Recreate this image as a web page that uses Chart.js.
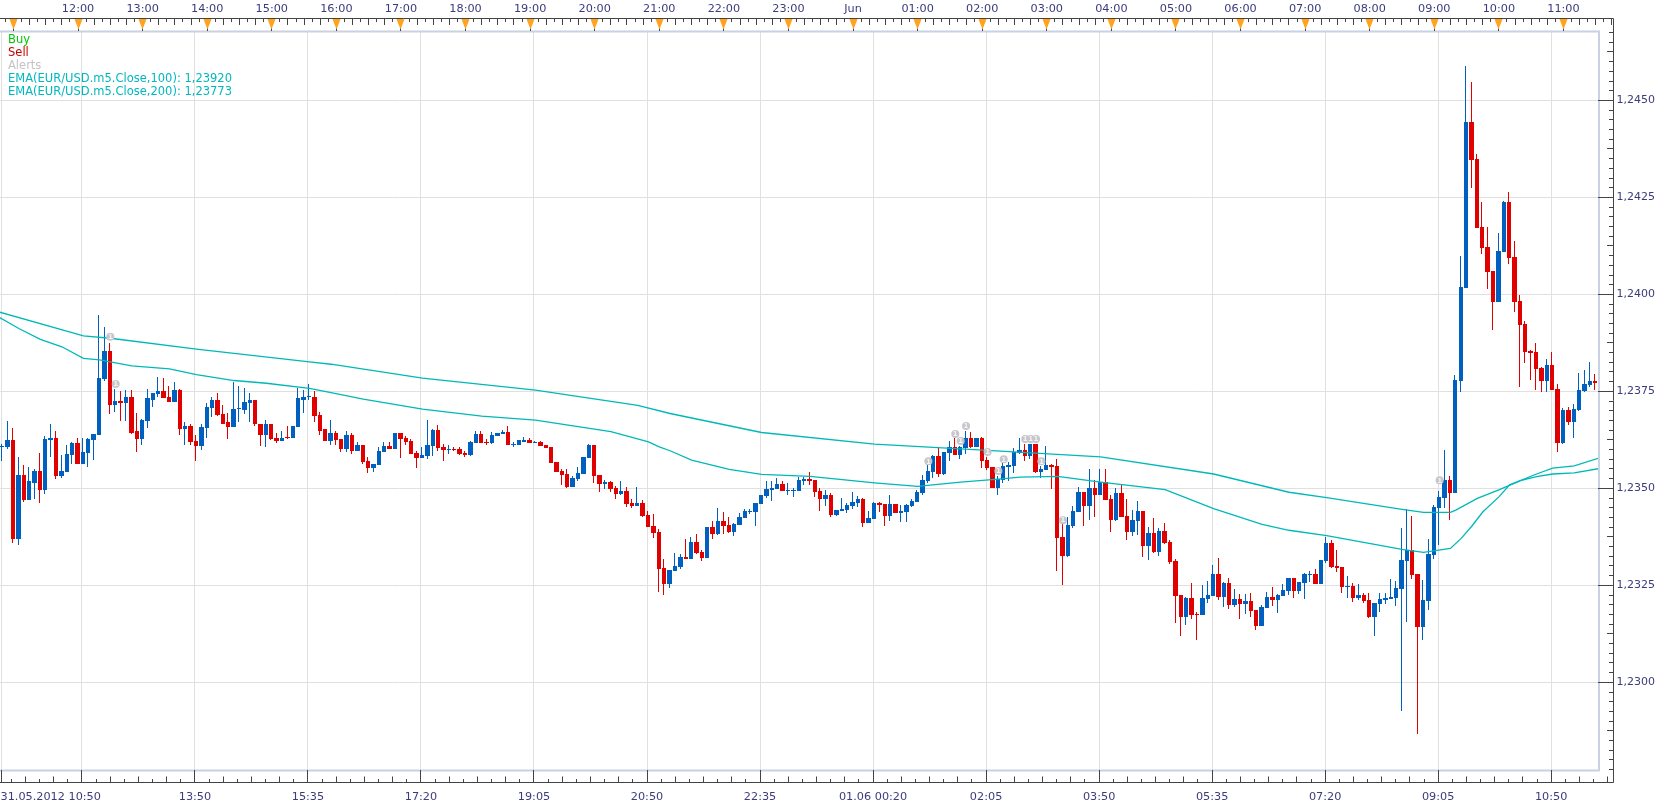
<!DOCTYPE html>
<html>
<head>
<meta charset="utf-8">
<title>EUR/USD m5</title>
<style>
  html, body { margin: 0; padding: 0; background: #fff; }
  #wrap { width: 1670px; height: 807px; }
</style>
<script src="https://cdn.jsdelivr.net/npm/chart.js@4"></script>
</head>
<body>
<div id="wrap"><canvas id="chart" width="1670" height="807"></canvas></div>
<script>
// EUR/USD 5-minute candles, in points (0.00001) above 1.23000.
const opens = [
606,606,624,369,534,469,515,546,495,624,
631,531,541,585,616,564,590,624,637,781,
853,714,724,719,735,647,626,673,729,742,
750,735,722,753,652,662,621,608,655,706,
729,691,670,657,704,701,719,727,667,637,
667,629,621,631,629,657,729,735,735,688,
652,621,644,627,601,637,596,612,570,552,
560,594,609,601,643,630,622,591,578,583,
609,650,606,599,601,601,591,586,617,640,
619,617,635,640,645,612,612,619,625,617,
619,612,606,568,545,537,503,524,537,578,
612,534,511,516,501,485,493,462,455,462,
431,403,387,295,253,287,297,323,318,362,
336,320,400,382,416,406,387,406,424,438,
439,460,480,497,498,511,493,494,493,519,
524,521,493,473,483,431,442,444,454,462,
473,411,421,462,460,429,460,436,439,454,
465,488,519,542,583,537,591,607,586,604,
630,607,630,573,555,501,521,555,558,591,
599,583,614,542,547,560,558,375,326,403,
439,491,454,501,483,516,473,418,488,429,
387,416,442,351,385,336,390,362,313,225,
168,217,176,174,215,223,279,220,256,199,
215,202,210,186,145,192,220,212,223,235,
269,235,256,277,279,253,313,359,300,297,
246,248,217,225,212,168,202,212,215,217,
241,313,341,279,143,210,328,449,475,521,
488,777,1016,1444,1349,1174,1122,1060,980,1109,
1238,1096,983,923,854,851,810,777,818,756,
617,702,671,702,751,766,777];

const closes = [
608,624,369,534,469,518,546,495,626,631,
531,544,588,616,564,593,626,639,784,853,
714,724,719,735,644,626,675,732,745,750,
732,722,753,652,662,619,608,657,709,729,
688,667,657,704,706,722,727,665,637,667,
626,621,631,629,660,732,735,737,686,649,
621,644,624,601,637,596,612,568,552,563,
596,609,601,643,627,619,588,578,586,612,
650,604,599,601,599,588,586,619,640,617,
617,637,643,645,612,615,625,625,617,619,
609,604,565,542,534,503,527,540,581,612,
532,511,516,498,485,493,460,455,462,429,
400,385,292,253,290,300,323,318,362,333,
320,400,382,416,403,387,408,426,442,441,
462,483,498,500,511,493,496,497,521,524,
519,491,473,483,431,444,447,457,465,473,
411,424,462,457,429,460,436,442,457,467,
491,521,545,583,537,594,607,586,607,630,
607,630,570,552,501,524,558,560,594,599,
583,614,542,550,560,555,372,326,406,442,
491,454,501,483,516,470,418,488,426,387,
418,442,351,385,336,390,359,310,223,168,
217,174,174,217,225,279,220,256,199,215,
202,210,184,145,194,220,212,225,238,269,
235,259,279,279,253,315,359,297,295,246,
248,217,225,210,168,205,215,217,220,243,
315,341,277,143,212,331,452,478,521,488,
779,1019,1444,1346,1171,1119,1058,980,1112,1238,
1094,980,921,851,849,808,777,818,753,617,
702,671,704,753,769,777,771];

const highs = [
615,673,655,580,559,554,549,590,634,667,
649,585,611,619,631,631,631,639,948,915,
876,755,750,753,753,693,680,755,745,786,
784,765,773,755,670,667,637,665,719,735,
745,716,693,773,765,758,745,727,667,675,
667,642,647,660,662,760,753,768,750,698,
652,675,649,627,648,643,619,612,581,563,
606,619,619,643,643,635,627,596,606,676,
653,663,614,612,606,606,596,622,648,648,
627,645,643,650,661,619,625,632,630,622,
622,612,606,568,550,550,532,555,581,614,
612,534,522,519,506,519,503,473,503,470,
442,434,395,318,290,333,331,369,375,382,
341,400,416,449,439,426,411,436,447,447,
462,483,519,519,527,519,514,501,529,529,
542,521,501,496,488,444,475,462,491,480,
475,442,465,465,460,483,460,457,460,473,
496,534,560,586,607,594,622,630,609,648,
645,630,632,581,555,532,565,568,604,630,
614,614,614,558,609,563,576,408,426,454,
503,491,550,521,550,550,483,501,509,473,
444,467,442,400,424,398,411,367,318,225,
220,256,181,251,261,302,320,259,269,241,
228,228,230,186,199,233,246,228,253,269,
269,259,282,287,292,315,375,367,341,297,
274,256,253,230,230,205,230,230,266,261,
398,447,429,279,264,369,457,493,599,532,
792,1099,1588,1547,1362,1238,1174,1060,1158,1241,
1264,1137,998,931,856,875,813,833,851,769,
707,710,717,797,805,826,795];

const lows = [
570,601,359,354,464,469,472,461,485,582,
523,526,541,564,562,564,554,572,637,778,
691,696,673,673,639,593,613,655,709,735,
732,722,722,637,611,611,570,598,631,683,
686,667,626,657,670,691,670,660,608,606,
624,616,621,626,629,657,693,729,670,637,
621,613,613,594,594,588,596,563,540,542,
560,594,601,601,578,612,588,552,578,576,
583,596,570,588,596,586,581,583,617,617,
612,614,635,640,612,606,612,619,617,617,
609,604,565,542,509,501,503,519,537,578,
514,491,498,491,473,483,452,449,455,426,
400,372,233,225,243,287,292,318,318,331,
313,320,369,380,382,385,377,406,424,434,
403,460,475,467,498,493,483,478,493,509,
509,478,442,454,426,429,442,436,447,452,
400,411,421,439,403,416,436,413,413,452,
465,483,514,527,529,534,570,586,576,588,
604,607,552,547,501,483,514,519,540,588,
570,576,540,527,547,498,287,251,323,398,
439,403,418,426,483,470,387,416,426,367,
377,380,323,315,333,326,357,305,153,119,
148,163,109,174,205,223,212,194,189,194,
163,176,168,135,145,192,197,179,223,225,
217,228,215,259,253,253,308,295,284,230,
217,207,212,205,166,119,181,202,215,197,
-74,156,266,-133,109,186,318,354,449,418,
488,748,1016,1274,1171,1104,1014,908,980,1109,
1078,954,761,823,779,753,748,748,753,594,
614,663,630,699,748,761,753];

// Moving averages, sampled at bar positions.
const emaSlowBars = [-1,15,20,36,57,61,78,99,118,124,141,162,183,204,225,239,246,260,264,269,270,274,278,282,285,288,292,297];
const emaSlow = [1.23956,1.23893,1.23887,1.23859,1.23826,1.23820,1.23784,1.23753,1.23714,1.23693,1.23644,1.23614,1.23598,1.23581,1.23537,1.23490,1.23476,1.23446,1.23438,1.23438,1.23444,1.23474,1.23496,1.23520,1.23530,1.23537,1.23540,1.23552];
const emaFastBars = [-1,3,7,11,15,18,24,31,36,43,49,57,61,67,78,89,99,106,113,120,122,124,128,135,141,150,162,170,178,185,189,196,204,216,225,234,239,246,260,264,269,271,273,275,278,280,282,285,288,292,297];
const emaFast = [1.23944,1.23912,1.23884,1.23865,1.23835,1.23831,1.23816,1.23808,1.23793,1.23778,1.23771,1.23758,1.23747,1.23730,1.23704,1.23686,1.23676,1.23661,1.23646,1.23620,1.23607,1.23597,1.23573,1.23549,1.23536,1.23531,1.23514,1.23505,1.23516,1.23524,1.23529,1.23531,1.23516,1.23497,1.23448,1.23407,1.23392,1.23378,1.23343,1.23335,1.23345,1.23371,1.23403,1.23439,1.23478,1.23509,1.23520,1.23537,1.23552,1.23558,1.23580];

// Fired alerts: bar position and level in points above 1.23000.
const alertBars = [20,21,172,177,178,179,183,185,186,190,191,192,193,197,267];
const alertLevels = [891,769,570,640,622,661,594,545,575,627,627,627,570,418,521];

// Axis contents.
const priceTicks = [1.23, 1.2325, 1.235, 1.2375, 1.24, 1.2425, 1.245];
const timeGridBars = [0,15,36,57,78,99,120,141,162,183,204,225,246,267,288];
const timeGridLabels = ['31.05.2012 10:50','','13:50','15:35','17:20','19:05','20:50','22:35','01.06 00:20','02:05','03:50','05:35','07:20','09:05','10:50'];
const hourBars = [2,14,26,38,50,62,74,86,98,110,122,134,146,158,170,182,194,206,218,230,242,254,266,278,290];
const hourLabels = ['','12:00','13:00','14:00','15:00','16:00','17:00','18:00','19:00','20:00','21:00','22:00','23:00','Jun','01:00','02:00','03:00','04:00','05:00','06:00','07:00','08:00','09:00','10:00','11:00'];
const legendNames = ['Buy','Sell','Alerts','EMA(EUR/USD.m5.Close,100): 1,23920','EMA(EUR/USD.m5.Close,200): 1,23773'];
const legendColors = ['#00c800','#c80000','#c4c4c4','#00b8c0','#00b8c0'];

const UP = '#0060c0', DOWN = '#e00000', EMA = '#00b8b8';
const GRID = '#e0e0e0', FRAME = '#c8d2e2', AXIS = '#444444', TEXT = '#3c3c7c';
const FONT = '"DejaVu Sans", Verdana, sans-serif';
const GRID_SHIFT = 0.28;   // vertical grid sits a fraction of a bar left of the candle centres

const toPrice = p => +(1.23 + p / 100000).toFixed(5);
const barColor = opens.map((o, i) => closes[i] >= o ? UP : DOWN);

// The plot runs edge to edge: no room is reserved for overhanging tick labels.
const fixBox = (s, key, size) => {
  s[key] = size;
  s.paddingLeft = s.paddingRight = s.paddingTop = s.paddingBottom = 0;
};

// Pixel-snap candles: each body fills its bar slot minus a 1px gap, so bodies are
// 4 or 5px wide at the fractional spacing, with the wick on a whole pixel column.
const snapCandles = {
  id: 'snapCandles',
  beforeDatasetsDraw(chart) {
    chart.data.datasets.forEach((ds, d) => {
      if (ds.type !== 'bar') return;
      const isBody = ds.label === 'Body';
      chart.getDatasetMeta(d).data.forEach(el => {
        const left = Math.round(el.x - 3.69) + 1;
        const right = Math.round(el.x + 1.69);
        const slot = right - left;
        if (isBody) {
          el.width = slot;
          el.x = (left + right) / 2;
        } else {
          el.width = 1;
          el.x = left + Math.floor((slot - 1) / 2) + 0.5;
        }
        el.y = Math.round(el.y);
        el.base = Math.round(el.base);
        if (el.y === el.base) el.y -= 1;
      });
    });
  }
};

// Axis furniture: frame, ruler ticks, hour flags, alert digits, legend text.
const furniture = {
  id: 'furniture',
  afterDatasetsDraw(chart) {
    const { ctx, chartArea: a, scales: { x, y } } = chart;
    const axisRight = 1613, topLine = 18.5, bottomLine = 782.5;
    const line = (x1, y1, x2, y2) => { ctx.beginPath(); ctx.moveTo(x1, y1); ctx.lineTo(x2, y2); ctx.stroke(); };
    const crisp = v => Math.round(v - 0.5) + 0.5;
    ctx.save();

    // frame round the plot
    ctx.strokeStyle = FRAME; ctx.lineWidth = 2;
    line(0, a.top + 0.5, a.right + 2, a.top + 0.5);
    line(a.right + 1, a.top, a.right + 1, a.bottom + 1);
    line(0, a.bottom + 0.5, a.right + 2, a.bottom + 0.5);

    // ruler lines
    ctx.strokeStyle = AXIS; ctx.lineWidth = 1;
    line(0, topLine, axisRight + 0.5, topLine);
    line(0, bottomLine, axisRight + 0.5, bottomLine);
    line(axisRight + 0.5, topLine, axisRight + 0.5, bottomLine);

    // price ruler: every 2.5 pips, longer at 12.5, full at 25
    for (let k = -40; k < 80; k++) {
      const v = 1.245 - k * 0.00025, py = y.getPixelForValue(v);
      if (py < 31 || py > 771) continue;
      const from = k % 10 === 0 ? a.right : (k % 5 === 0 ? 1607 : 1609);
      line(from, crisp(py), axisRight, crisp(py));
    }

    // bottom time ruler: eight divisions between labelled bars
    const step = 21 / 8;
    for (let k = -5; k < 120; k++) {
      const px = x.getPixelForValue(k * step + 15 - GRID_SHIFT);
      if (px > axisRight - 2) break;
      const top = k % 8 === 0 ? 0 : (k % 2 === 0 ? 776.5 : 779);
      if (top) line(crisp(px), top, crisp(px), bottomLine);
    }
    timeGridBars.forEach(b => {
      const px = crisp(x.getPixelForValue(b - GRID_SHIFT));
      line(px, a.bottom, px, bottomLine);
    });

    // top time ruler: eight divisions per hour
    for (let k = -1; k < 200; k++) {
      const px = x.getPixelForValue(2 + k * 1.5);
      if (px > axisRight - 1) break;
      const bottom = k % 8 === 0 ? 31 : (k % 2 === 0 ? 25 : 22);
      line(crisp(px), topLine, crisp(px), bottom);
    }

    // hour flags
    ctx.fillStyle = '#ffa31f';
    hourBars.forEach(b => {
      const px = crisp(x.getPixelForValue(b));
      ctx.beginPath();
      ctx.moveTo(px - 4, 19); ctx.lineTo(px + 4, 19); ctx.lineTo(px, 29.5);
      ctx.closePath(); ctx.fill();
    });

    // digit on each alert marker
    ctx.fillStyle = '#f2f2f2';
    ctx.font = 'bold 7px ' + FONT;
    ctx.textAlign = 'center'; ctx.textBaseline = 'middle';
    const alertSet = chart.data.datasets.findIndex(ds => ds.label === 'Alerts');
    chart.getDatasetMeta(alertSet).data.forEach(pt => ctx.fillText('1', pt.x, pt.y + 0.5));

    // first time label is left-aligned against the edge
    ctx.fillStyle = TEXT;
    ctx.font = '11.25px ' + FONT;
    ctx.textAlign = 'left'; ctx.textBaseline = 'alphabetic';
    ctx.fillText(timeGridLabels[0], 0.5, 800);

    // legend block
    ctx.font = '11.5px ' + FONT;
    legendNames.forEach((name, i) => {
      ctx.fillStyle = legendColors[i];
      ctx.fillText(name, 8, 43 + 13 * i);
    });
    ctx.restore();
  }
};

new Chart(document.getElementById('chart'), {
  data: {
    datasets: [
      {
        type: 'scatter', label: 'Alerts', order: 0, xAxisID: 'x', yAxisID: 'y',
        data: alertBars.map((b, i) => ({ x: b, y: toPrice(alertLevels[i]) })),
        pointRadius: 4, pointBackgroundColor: '#c6c6cc', pointBorderWidth: 0
      },
      {
        type: 'line', label: 'EMA 100', order: 1, xAxisID: 'x', yAxisID: 'y',
        data: emaSlowBars.map((b, i) => ({ x: b, y: emaSlow[i] })),
        borderColor: EMA, borderWidth: 1.3, pointRadius: 0, tension: 0, fill: false
      },
      {
        type: 'line', label: 'EMA 200', order: 1, xAxisID: 'x', yAxisID: 'y',
        data: emaFastBars.map((b, i) => ({ x: b, y: emaFast[i] })),
        borderColor: EMA, borderWidth: 1.3, pointRadius: 0, tension: 0, fill: false
      },
      {
        type: 'bar', label: 'Body', order: 2, grouped: false, xAxisID: 'x', yAxisID: 'y',
        data: opens.map((o, i) => ({ x: i, y: [toPrice(o), toPrice(closes[i])] })),
        backgroundColor: barColor, borderWidth: 0, inflateAmount: 0,
        barPercentage: 1, categoryPercentage: 1, maxBarThickness: 5
      },
      {
        type: 'bar', label: 'Wick', order: 3, grouped: false, xAxisID: 'x', yAxisID: 'y',
        data: lows.map((l, i) => ({ x: i, y: [toPrice(l), toPrice(highs[i])] })),
        backgroundColor: barColor, borderWidth: 0, inflateAmount: 0,
        barPercentage: 1, categoryPercentage: 1, maxBarThickness: 1
      }
    ]
  },
  options: {
    responsive: false,
    animation: false,
    events: [],
    layout: { padding: 0, autoPadding: false },
    plugins: { legend: { display: false }, tooltip: { enabled: false } },
    scales: {
      x: {
        type: 'linear', position: 'bottom', offset: false,
        min: -0.5, max: 296.42,
        afterBuildTicks: s => { s.ticks = timeGridBars.map(b => ({ value: b - GRID_SHIFT })); },
        afterFit: s => fixBox(s, 'height', 37),
        grid: { color: GRID, lineWidth: 1, drawTicks: false, offset: false },
        border: { display: false },
        ticks: {
          autoSkip: false, maxRotation: 0, minRotation: 0, padding: 20,
          color: TEXT, font: { family: FONT, size: 11.25 },
          callback: (v, i) => i === 0 ? '' : timeGridLabels[i]
        }
      },
      hours: {
        type: 'linear', position: 'top', axis: 'x', offset: false,
        min: -0.5, max: 296.42,
        afterBuildTicks: s => { s.ticks = hourBars.map(b => ({ value: b })); },
        afterFit: s => fixBox(s, 'height', 31),
        grid: { display: false, drawTicks: false },
        border: { display: false },
        ticks: {
          autoSkip: false, maxRotation: 0, minRotation: 0, padding: 15,
          color: TEXT, font: { family: FONT, size: 11.25 },
          callback: (v, i) => hourLabels[i]
        }
      },
      y: {
        type: 'linear', position: 'right',
        min: 1.22774, max: 1.24679,
        afterBuildTicks: s => { s.ticks = priceTicks.map(v => ({ value: v })); },
        afterFit: s => fixBox(s, 'width', 72),
        grid: { color: GRID, lineWidth: 1, drawTicks: false },
        border: { display: false },
        ticks: {
          padding: 18.5, color: TEXT, font: { family: FONT, size: 11 },
          callback: v => v.toFixed(4).replace('.', ',')
        }
      }
    }
  },
  plugins: [snapCandles, furniture]
});
</script>
</body>
</html>
